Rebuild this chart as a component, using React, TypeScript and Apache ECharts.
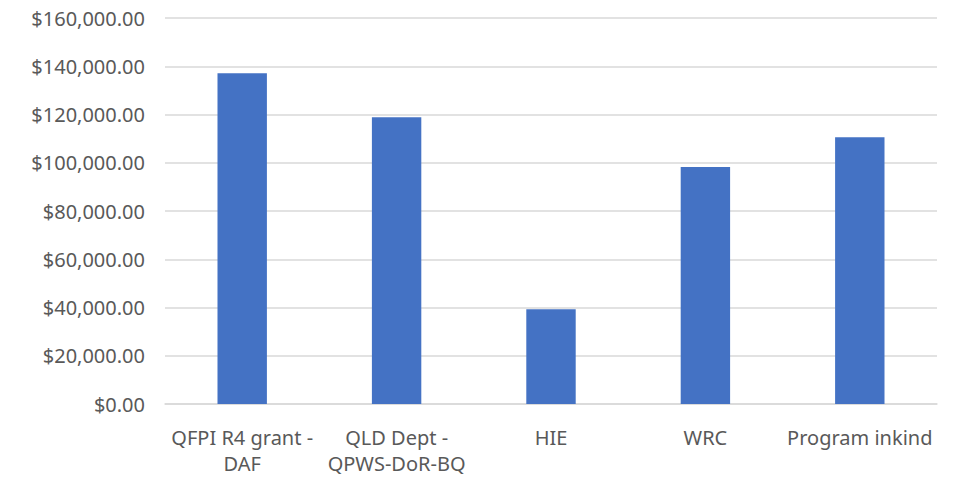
import React, { useEffect, useRef } from "react";
import * as echarts from "echarts";

const categories = [
  "QFPI R4 grant - DAF",
  "QLD Dept - QPWS-DoR-BQ",
  "HIE",
  "WRC",
  "Program inkind",
];
const values = [137100, 118900, 39300, 98200, 110600];
const yMin = 0;
const yMax = 160000;
const yInterval = 20000;

export default function App() {
  const ref = useRef<HTMLDivElement>(null);
  useEffect(() => {
    if (!ref.current) return;
    const chart = echarts.init(ref.current, undefined, { renderer: "svg" });
    chart.setOption({
      animation: false,
      backgroundColor: "#ffffff",
      grid: { left: 165, right: 17, top: 18, bottom: 74, containLabel: false },
      xAxis: {
        type: "category",
        data: categories,
        axisLine: { show: true, lineStyle: { color: "#D9D9D9", width: 1.5 } },
        axisTick: { show: false },
        axisLabel: {
          color: "#595959",
          fontFamily: "Noto Sans",
          fontSize: 20,
          lineHeight: 26,
          margin: 20,
          interval: 0,
          formatter: (v: string) => v.replace(" - ", " -\n"),
        },
      },
      yAxis: {
        type: "value",
        min: yMin,
        max: yMax,
        interval: yInterval,
        axisLine: { show: false },
        axisTick: { show: false },
        splitLine: { lineStyle: { color: "#D9D9D9", width: 1.5 } },
        axisLabel: {
          color: "#595959",
          fontFamily: "Noto Sans",
          fontSize: 20,
          margin: 20,
          formatter: (v: number) =>
            "$" +
            v.toLocaleString("en-US", {
              minimumFractionDigits: 2,
              maximumFractionDigits: 2,
            }),
        },
      },
      series: [
        {
          type: "bar",
          data: values,
          barWidth: "32%",
          itemStyle: { color: "#4472C4" },
        },
      ],
    });
    return () => chart.dispose();
  }, []);
  return (
    <div
      ref={ref}
      style={{ position: "absolute", left: 0, top: 0, width: 954, height: 478 }}
    />
  );
}
